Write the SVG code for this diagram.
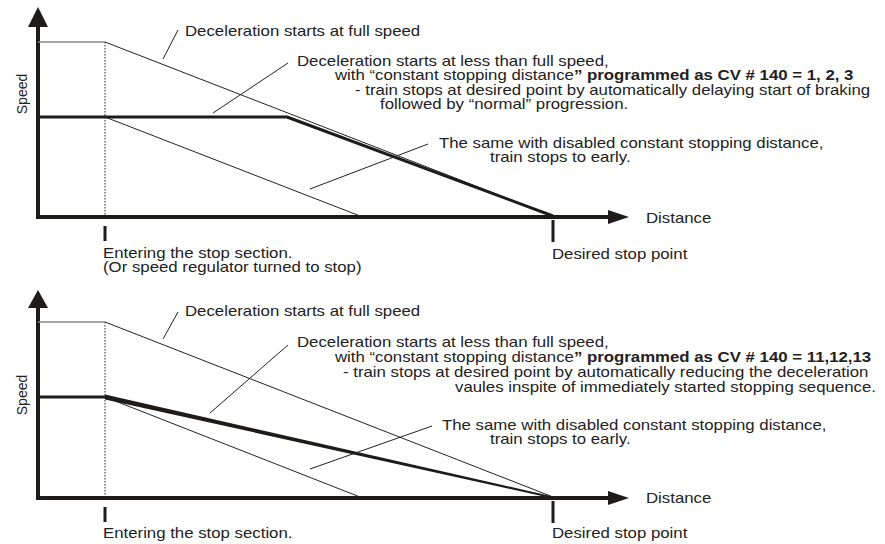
<svg xmlns="http://www.w3.org/2000/svg" width="885" height="544" viewBox="0 0 885 544">
<style>
  .t { font-family: "Liberation Sans", Arial, sans-serif; font-size: 14px; fill: #222; }
  .b { font-weight: bold; }
  .axis { stroke: #1e1b18; stroke-width: 4; fill: none; }
  .tick { stroke: #1e1b18; stroke-width: 3; fill: none; }
  .thin { stroke: #222; stroke-width: 1; fill: none; }
  .gray { stroke: #8a8a8a; stroke-width: 1.5; fill: none; }
  .thick { stroke: #1e1b18; stroke-width: 3; fill: none; stroke-linejoin: round; }
  .dot { stroke: #222; stroke-width: 1; stroke-dasharray: 1.5 1.5; fill: none; }
  .head { fill: #1e1b18; }
</style>

<g id="top-chart">
  <g id="top-axes">
    <line class="axis" x1="38" y1="20" x2="38" y2="219"/>
    <polygon class="head" points="38,7 28,27 48,27"/>
    <line class="axis" x1="36" y1="217" x2="612" y2="217"/>
    <polygon class="head" points="629,217 608,210 608,224"/>
    <line class="tick" x1="105" y1="226" x2="105" y2="241"/>
    <line class="tick" x1="553" y1="220" x2="553" y2="242"/>
    <line class="dot" x1="105" y1="42" x2="105" y2="216"/>
  </g>
  <g id="top-curves">
    <line class="gray" x1="38" y1="42" x2="105" y2="42"/>
    <line class="thin" x1="105" y1="42" x2="553" y2="216"/>
    <polyline class="thick" points="38,117 287,117 553,216"/>
    <line class="thin" x1="105" y1="117" x2="360" y2="216"/>
  </g>
  <g id="top-connectors">
    <line class="thin" x1="163" y1="59" x2="178" y2="30"/>
    <line class="thin" x1="213" y1="113" x2="288" y2="63"/>
    <line class="thin" x1="310" y1="189" x2="428" y2="144"/>
  </g>
  <g id="top-labels">
    <text class="t" transform="translate(27 94) rotate(-90)" text-anchor="middle">Speed</text>
    <text class="t" transform="translate(646 223) scale(1.2 1)">Distance</text>
    <text class="t" transform="translate(552 259) scale(1.2 1)">Desired stop point</text>
    <text class="t" transform="translate(103 258) scale(1.2 1)">Entering the stop section.</text>
    <text class="t" transform="translate(103 272) scale(1.2 1)">(Or speed regulator turned to stop)</text>
    <text class="t" transform="translate(185 36) scale(1.2 1)">Deceleration starts at full speed</text>
    <text class="t" transform="translate(297 66) scale(1.2 1)">Deceleration starts at less than full speed,</text>
    <text class="t" transform="translate(335 80) scale(1.2 1)">with “constant stopping distance<tspan class="b">” programmed as CV # 140 = 1, 2, 3</tspan></text>
    <text class="t" transform="translate(355 95) scale(1.2 1)">- train stops at desired point by automatically delaying start of braking</text>
    <text class="t" transform="translate(380 109) scale(1.2 1)">followed by “normal” progression.</text>
    <text class="t" transform="translate(439 148) scale(1.2 1)">The same with disabled constant stopping distance,</text>
    <text class="t" transform="translate(490 162) scale(1.2 1)">train stops to early.</text>
  </g>
</g>

<g id="bottom-chart">
  <g id="bottom-axes">
    <line class="axis" x1="38" y1="303" x2="38" y2="500"/>
    <polygon class="head" points="38,290 28,308 48,308"/>
    <line class="axis" x1="36" y1="498" x2="612" y2="498"/>
    <polygon class="head" points="629,498 608,491 608,505"/>
    <line class="tick" x1="105" y1="507" x2="105" y2="522"/>
    <line class="tick" x1="553" y1="501" x2="553" y2="523"/>
    <line class="dot" x1="105" y1="322" x2="105" y2="497"/>
  </g>
  <g id="bottom-curves">
    <line class="gray" x1="38" y1="322" x2="105" y2="322"/>
    <line class="thin" x1="105" y1="322" x2="553" y2="497"/>
    <line class="thick" x1="38" y1="397" x2="106" y2="397" stroke-width="4.5"/>
    <polygon class="head" points="105,394.5 553,496.5 553,498.5 105,399.5"/>
    <line class="thin" x1="105" y1="397" x2="360" y2="497"/>
  </g>
  <g id="bottom-connectors">
    <line class="thin" x1="163" y1="339" x2="178" y2="312"/>
    <line class="thin" x1="210" y1="413" x2="288" y2="345"/>
    <line class="thin" x1="310" y1="469" x2="432" y2="426"/>
  </g>
  <g id="bottom-labels">
    <text class="t" transform="translate(27 395) rotate(-90)" text-anchor="middle">Speed</text>
    <text class="t" transform="translate(646 503) scale(1.2 1)">Distance</text>
    <text class="t" transform="translate(552 538) scale(1.2 1)">Desired stop point</text>
    <text class="t" transform="translate(103 538) scale(1.2 1)">Entering the stop section.</text>
    <text class="t" transform="translate(185 316) scale(1.2 1)">Deceleration starts at full speed</text>
    <text class="t" transform="translate(297 347) scale(1.2 1)">Deceleration starts at less than full speed,</text>
    <text class="t" transform="translate(335 362) scale(1.2 1)">with “constant stopping distance<tspan class="b">” programmed as CV # 140 = 11,12,13</tspan></text>
    <text class="t" transform="translate(343 377) scale(1.2 1)">- train stops at desired point by automatically reducing the  deceleration</text>
    <text class="t" transform="translate(455 392) scale(1.2 1)">vaules inspite of immediately started stopping sequence.</text>
    <text class="t" transform="translate(442 430) scale(1.2 1)">The same with disabled constant stopping distance,</text>
    <text class="t" transform="translate(490 444) scale(1.2 1)">train stops to early.</text>
  </g>
</g>
</svg>
